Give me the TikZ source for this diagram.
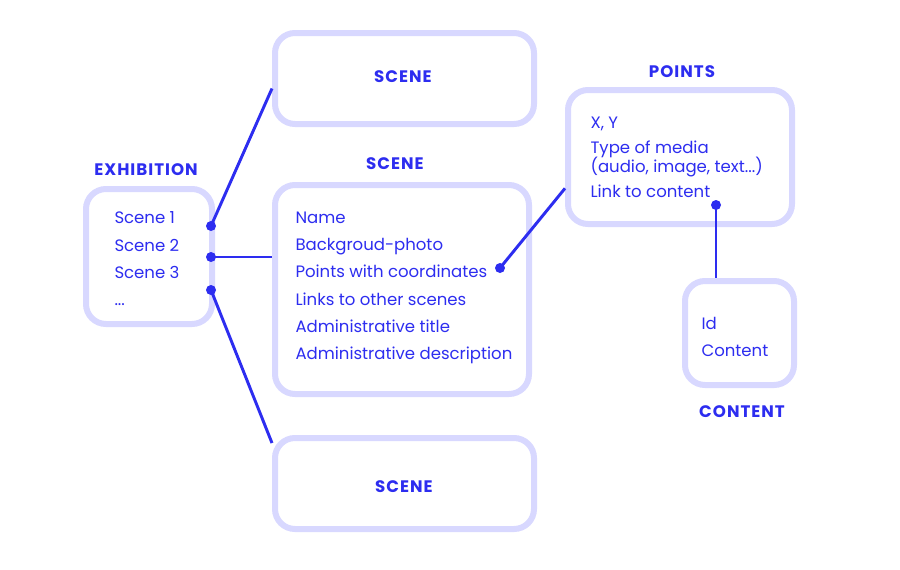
\documentclass[tikz,border=0pt]{standalone}
\usepackage{fontspec}
\setmainfont{Poppins}
\usetikzlibrary{positioning}

\definecolor{inkblue}{RGB}{45,45,240}
\definecolor{boxline}{RGB}{216,216,255}

\tikzset{every picture/.style={line width=0.75pt}}
\tikzset{
  card/.style={draw=boxline, line width=4.5pt, rounded corners=15pt, inner sep=0pt},
  heading/.style={text=inkblue, font=\bfseries\fontsize{12.5}{14}\selectfont\addfontfeatures{LetterSpace=6}},
  listing/.style={text=inkblue, align=left, anchor=west, inner sep=0pt, font=\fontsize{12.4}{20.5}\selectfont},
  link/.style={draw=inkblue, line width=2.2pt},
  knob/.style={fill=inkblue}
}

\begin{document}
\begin{tikzpicture}[x=0.75pt,y=0.75pt,yscale=-1,xscale=1]
%set diagram size 900 x 569
\path[use as bounding box, fill=white] (0,0) rectangle (900,569);

%Boxes
\node[card, minimum width=94.5pt, minimum height=101.25pt] (exhibition) at (149,256.5) {};
\node[card, minimum width=194.25pt, minimum height=68.25pt] (scenetop) at (404.5,78.5) {};
\node[card, minimum width=190.5pt, minimum height=156.75pt] (scenemain) at (402,289.5) {};
\node[card, minimum width=194.25pt, minimum height=68.25pt] (scenebot) at (404.5,483.5) {};
\node[card, minimum width=168pt, minimum height=100.5pt] (points) at (680,157) {};
\node[card, minimum width=81.75pt, minimum height=78pt] (content) at (739.5,333) {};

%Headings
\node[heading] (exhibitiontitle) at (146,170) {EXHIBITION};
\node[heading] (scenetoptitle) at (403,77) {SCENE};
\node[heading] (scenemaintitle) at (395,164) {SCENE};
\node[heading] (scenebottitle) at (404,487) {SCENE};
\node[heading] (pointstitle) at (682,72) {POINTS};
\node[heading] (contenttitle) at (742,412) {CONTENT};

%Lists
\node[listing] (exhibitionlist) at (114,259) {Scene 1\\Scene 2\\Scene 3\\...};
\node[listing] (scenelist) at (295,288) {Name\\Backgroud-photo\\Points with coordinates\\Links to other scenes\\Administrative title\\Administrative description};
\node[listing] (pointslist) at (590,157) {X, Y\\[-1.5pt]Type of media\\[-6.5pt](audio, image, text...)\\[-1.5pt]Link to content};
\node[listing] (contentlist) at (701,337) {Id\\Content};

%Dots
\coordinate (sceneone) at (211,226);
\coordinate (scenetwo) at (211,257);
\coordinate (scenethree) at (211,290);
\coordinate (pointsdot) at (500,268);
\coordinate (contentdot) at (716,205);

%Links (yshift follows yscale=-1, so positive goes down)
\draw[link] (sceneone) -- ([yshift=7.5pt]scenetop.west);
\draw[link] (scenetwo) -- (scenetwo -| scenemain.west);
\draw[link] (scenethree) -- ([yshift=6pt]scenebot.north west);
\draw[link] (pointsdot) -- ([yshift=-29pt]points.south west);
\draw[link] (contentdot) -- (contentdot |- content.north);

\foreach \d in {sceneone,scenetwo,scenethree,pointsdot,contentdot}
  \fill[knob] (\d) circle (5);

\end{tikzpicture}
\end{document}
